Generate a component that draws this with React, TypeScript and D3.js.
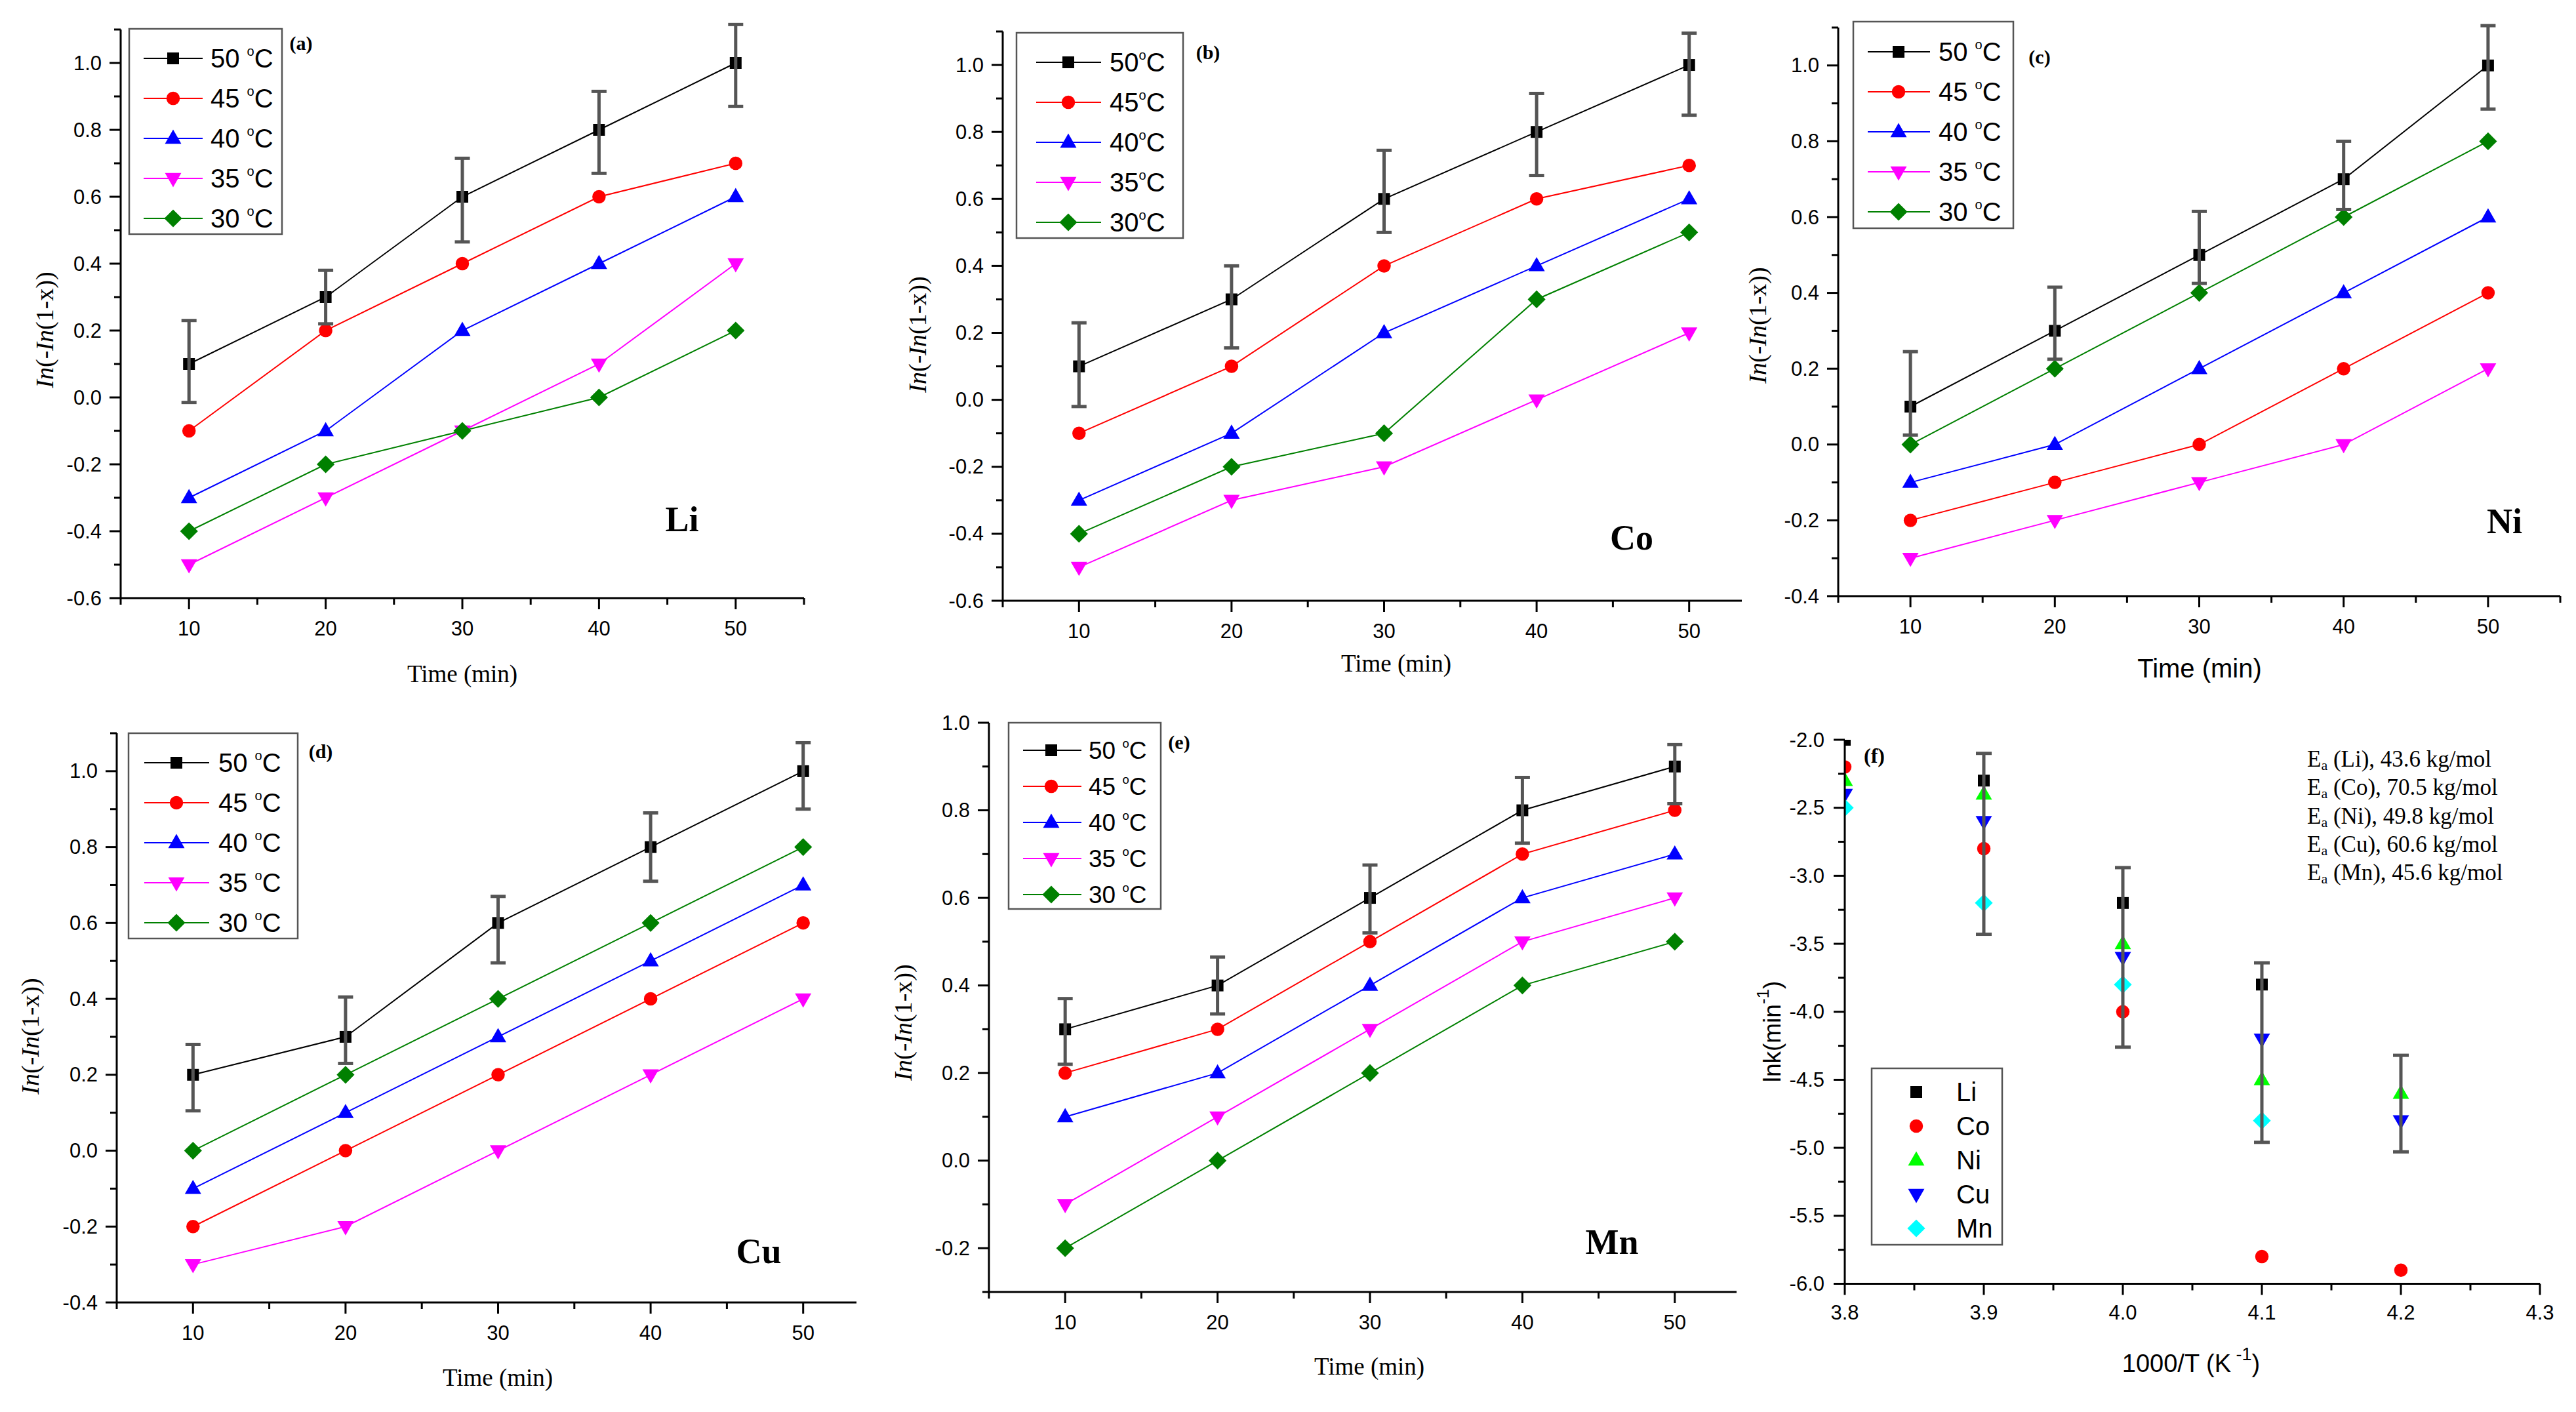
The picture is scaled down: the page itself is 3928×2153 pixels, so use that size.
import React from 'react';
import * as d3 from 'd3';

// ---------------- DATA ----------------
const TIME_MIN = [10, 20, 30, 40, 50];
const TIME_MINOR = [5, 15, 25, 35, 45, 55];
const TEMP_LABELS = ['50', '45', '40', '35', '30'];
const TEMP_COLORS = ['#000000', '#ff0000', '#0000ff', '#ff00ff', '#008000'];
const SHAPES = ['square', 'circle', 'triangle', 'triangleDown', 'diamond'];

const LI_SERIES = [
  [0.1, 0.3, 0.6, 0.8, 1.0],
  [-0.1, 0.2, 0.4, 0.6, 0.7],
  [-0.3, -0.1, 0.2, 0.4, 0.6],
  [-0.5, -0.3, -0.1, 0.1, 0.4],
  [-0.4, -0.2, -0.1, 0.0, 0.2],
];
const LI_ERR_UP = [0.13, 0.08, 0.115, 0.115, 0.115];
const LI_ERR_DOWN = [0.115, 0.08, 0.135, 0.13, 0.13];

const CO_SERIES = [
  [0.1, 0.3, 0.6, 0.8, 1.0],
  [-0.1, 0.1, 0.4, 0.6, 0.7],
  [-0.3, -0.1, 0.2, 0.4, 0.6],
  [-0.5, -0.3, -0.2, 0.0, 0.2],
  [-0.4, -0.2, -0.1, 0.3, 0.5],
];
const CO_ERR_UP = [0.13, 0.1, 0.145, 0.115, 0.095];
const CO_ERR_DOWN = [0.12, 0.145, 0.1, 0.13, 0.15];

const NI_SERIES = [
  [0.1, 0.3, 0.5, 0.7, 1.0],
  [-0.2, -0.1, 0.0, 0.2, 0.4],
  [-0.1, 0.0, 0.2, 0.4, 0.6],
  [-0.3, -0.2, -0.1, 0.0, 0.2],
  [0.0, 0.2, 0.4, 0.6, 0.8],
];
const NI_ERR_UP = [0.145, 0.115, 0.115, 0.1, 0.105];
const NI_ERR_DOWN = [0.075, 0.075, 0.075, 0.08, 0.115];

const CU_SERIES = [
  [0.2, 0.3, 0.6, 0.8, 1.0],
  [-0.2, 0.0, 0.2, 0.4, 0.6],
  [-0.1, 0.1, 0.3, 0.5, 0.7],
  [-0.3, -0.2, 0.0, 0.2, 0.4],
  [0.0, 0.2, 0.4, 0.6, 0.8],
];
const CU_ERR_UP = [0.08, 0.105, 0.07, 0.09, 0.075];
const CU_ERR_DOWN = [0.095, 0.07, 0.105, 0.09, 0.1];

const MN_SERIES = [
  [0.3, 0.4, 0.6, 0.8, 0.9],
  [0.2, 0.3, 0.5, 0.7, 0.8],
  [0.1, 0.2, 0.4, 0.6, 0.7],
  [-0.1, 0.1, 0.3, 0.5, 0.6],
  [-0.2, 0.0, 0.2, 0.4, 0.5],
];
const MN_ERR_UP = [0.07, 0.065, 0.075, 0.075, 0.05];
const MN_ERR_DOWN = [0.08, 0.065, 0.08, 0.075, 0.085];

const Y_TICKS_A = [-0.6, -0.4, -0.2, 0.0, 0.2, 0.4, 0.6, 0.8, 1.0];
const Y_TICKS_C = [-0.4, -0.2, 0.0, 0.2, 0.4, 0.6, 0.8, 1.0];
const Y_TICKS_E = [-0.2, 0.0, 0.2, 0.4, 0.6, 0.8, 1.0];

// panel (f)
const INV_T = [3.8, 3.9, 4.0, 4.1, 4.2];
const INV_T_TICKS = [3.8, 3.9, 4.0, 4.1, 4.2, 4.3];
const INV_T_MINOR = [3.85, 3.95, 4.05, 4.15, 4.25];
const LNK_TICKS = [-6.0, -5.5, -5.0, -4.5, -4.0, -3.5, -3.0, -2.5, -2.0];
const LNK_MINOR = [-5.75, -5.25, -4.75, -4.25, -3.75, -3.25, -2.75, -2.25];
const METALS = ['Li', 'Co', 'Ni', 'Cu', 'Mn'];
const METAL_COLORS = ['#000000', '#ff0000', '#00ff00', '#0000ff', '#00ffff'];
const LNK_LI = [-2.0, -2.3, -3.2, -3.8, null];
const LNK_CO = [-2.2, -2.8, -4.0, -5.8, -5.9];
const LNK_NI = [-2.3, -2.4, -3.5, -4.5, -4.6];
const LNK_CU = [-2.4, -2.6, -3.6, -4.2, -4.8];
const LNK_MN = [-2.5, -3.2, -3.8, -4.8, null];
const LNK_ERR_HIGH = [null, -2.1, -2.94, -3.64, -4.32];
const LNK_ERR_LOW = [null, -3.43, -4.26, -4.96, -5.03];
const EA_VALUES = ['43.6', '70.5', '49.8', '60.6', '45.6'];

// ---------------- STYLE / LAYOUT ----------------
const SANS = "'Liberation Sans', Arial, Helvetica, sans-serif";
const SERIF = "'Liberation Serif', 'Times New Roman', Times, serif";
const AXIS_W = 3;
const MAJOR = 17;
const MINOR = 10;
const TICK_FS = 31;
const ERR_COLOR = '#555555';

const fmt1 = (v: number) => (Math.abs(v) < 1e-9 ? '0.0' : v.toFixed(1));

function symbolPath(shape: string) {
  switch (shape) {
    case 'square':
      return d3.symbol(d3.symbolSquare, 324)() as string;
    case 'circle':
      return d3.symbol(d3.symbolCircle, 330)() as string;
    case 'triangle':
    case 'triangleDown':
      return d3.symbol(d3.symbolTriangle, 270)() as string;
    case 'diamond':
      return d3.symbol(d3.symbolSquare, 370)() as string;
  }
  return '';
}

function Marker({ shape, x, y, color }: { shape: string; x: number; y: number; color: string }) {
  let rot = 0;
  if (shape === 'triangleDown') rot = 180;
  if (shape === 'diamond') rot = 45;
  const dy = shape === 'triangle' ? 1 : shape === 'triangleDown' ? -1 : 0;
  return (
    <path
      d={symbolPath(shape)}
      transform={`translate(${x},${y + dy}) rotate(${rot})`}
      fill={color}
      stroke="none"
    />
  );
}

function ErrorBar({ x, y1, y2, cap, width }: { x: number; y1: number; y2: number; cap: number; width: number }) {
  return (
    <g stroke={ERR_COLOR} strokeWidth={width} fill="none">
      <line x1={x} x2={x} y1={y1} y2={y2} />
      <line x1={x - cap / 2} x2={x + cap / 2} y1={y1} y2={y1} />
      <line x1={x - cap / 2} x2={x + cap / 2} y1={y2} y2={y2} />
    </g>
  );
}

function YLabelTime({ x, y }: { x: number; y: number }) {
  return (
    <text
      transform={`translate(${x},${y}) rotate(-90)`}
      textAnchor="middle"
      dominantBaseline="central"
      fontFamily={SERIF}
      fontSize={38}
    >
      <tspan fontStyle="italic">In</tspan>
      <tspan>(-</tspan>
      <tspan fontStyle="italic">In</tspan>
      <tspan>(1-x))</tspan>
    </text>
  );
}

const TIME_PANELS = [
  {
    id: 'a', tag: '(a)', element: 'Li', series: LI_SERIES, errUp: LI_ERR_UP, errDown: LI_ERR_DOWN,
    yTicks: Y_TICKS_A, yDomain: [-0.6, 1.1], degSpace: true, sansTitle: false,
    xRange: [184, 1226], yRange: [912, 45], clipRight: 0,
    yLabel: [68, 503], xLabel: [705, 1027], tagPos: [459, 65], elemPos: [1040, 792],
    legend: { x: 197, y: 44, w: 233, h: 313, row0: 45, dy: 61, l0: 22, l1: 112, m: 67, t: 124, fs: 40 },
  },
  {
    id: 'b', tag: '(b)', element: 'Co', series: CO_SERIES, errUp: CO_ERR_UP, errDown: CO_ERR_DOWN,
    yTicks: Y_TICKS_A, yDomain: [-0.6, 1.1], degSpace: false, sansTitle: false,
    xRange: [1529, 2692], yRange: [916, 48], clipRight: 2656,
    yLabel: [1399, 510], xLabel: [2129, 1011], tagPos: [1842, 79], elemPos: [2488, 820],
    legend: { x: 1550, y: 50, w: 254, h: 313, row0: 45, dy: 61, l0: 30, l1: 129, m: 79, t: 142, fs: 40 },
  },
  {
    id: 'c', tag: '(c)', element: 'Ni', series: NI_SERIES, errUp: NI_ERR_UP, errDown: NI_ERR_DOWN,
    yTicks: Y_TICKS_C, yDomain: [-0.4, 1.1], degSpace: true, sansTitle: true,
    xRange: [2803, 3904], yRange: [909, 42], clipRight: 0,
    yLabel: [2680, 496], xLabel: [3354, 1019], tagPos: [3110, 86], elemPos: [3819, 795],
    legend: { x: 2826, y: 33, w: 244, h: 315, row0: 46, dy: 61, l0: 22, l1: 117, m: 69, t: 130, fs: 40 },
  },
  {
    id: 'd', tag: '(d)', element: 'Cu', series: CU_SERIES, errUp: CU_ERR_UP, errDown: CU_ERR_DOWN,
    yTicks: Y_TICKS_C, yDomain: [-0.4, 1.1], degSpace: true, sansTitle: false,
    xRange: [178, 1341], yRange: [1986, 1118], clipRight: 1306,
    yLabel: [46, 1580], xLabel: [759, 2100], tagPos: [489, 1145], elemPos: [1157, 1908],
    legend: { x: 196, y: 1118, w: 258, h: 313, row0: 45, dy: 61, l0: 24, l1: 123, m: 73, t: 137, fs: 40 },
  },
  {
    id: 'e', tag: '(e)', element: 'Mn', series: MN_SERIES, errUp: MN_ERR_UP, errDown: MN_ERR_DOWN,
    yTicks: Y_TICKS_E, yDomain: [-0.3, 1.0], degSpace: true, sansTitle: false,
    xRange: [1508, 2670], yRange: [1970, 1102], clipRight: 2648,
    yLabel: [1377, 1559], xLabel: [2088, 2083], tagPos: [1798, 1131], elemPos: [2458, 1894],
    legend: { x: 1538, y: 1102, w: 232, h: 284, row0: 42, dy: 55, l0: 22, l1: 111, m: 65, t: 122, fs: 37 },
  },
];

function TimePanel({ p }: { p: any }) {
  const x = d3.scaleLinear().domain([5, 55]).range(p.xRange);
  const y = d3.scaleLinear().domain(p.yDomain).range(p.yRange);
  const [ymin, ymax] = p.yDomain;
  const x0 = x(5);
  const yb = y(ymin);
  const minorY = d3
    .range(Math.round(ymin * 10), Math.round(ymax * 10) + 1)
    .map((v) => v / 10)
    .filter((v) => !p.yTicks.some((t: number) => Math.abs(t - v) < 1e-6));
  const line = d3
    .line<number>()
    .x((_, i) => x(TIME_MIN[i]))
    .y((d) => y(d));
  const clipId = `clip-${p.id}`;
  const L = p.legend;
  return (
    <g>
      {p.clipRight ? (
        <defs>
          <clipPath id={clipId}>
            <rect x={0} y={0} width={p.clipRight} height={2153} />
          </clipPath>
        </defs>
      ) : null}
      <g clipPath={p.clipRight ? `url(#${clipId})` : undefined}>
        {/* axes */}
        <g stroke="#000" strokeWidth={AXIS_W}>
          <line x1={x0} x2={x0} y1={yb} y2={y(ymax)} />
          <line x1={x0} x2={x(55)} y1={yb} y2={yb} />
          {p.yTicks.map((t: number) => (
            <line key={'ym' + t} x1={x0 - MAJOR} x2={x0} y1={y(t)} y2={y(t)} />
          ))}
          {minorY.map((t: number) => (
            <line key={'yn' + t} x1={x0 - MINOR} x2={x0} y1={y(t)} y2={y(t)} />
          ))}
          {TIME_MIN.map((t) => (
            <line key={'xm' + t} x1={x(t)} x2={x(t)} y1={yb} y2={yb + MAJOR} />
          ))}
          {TIME_MINOR.map((t) => (
            <line key={'xn' + t} x1={x(t)} x2={x(t)} y1={yb} y2={yb + MINOR} />
          ))}
        </g>
        <g fontFamily={SANS} fontSize={TICK_FS} fill="#000">
          {p.yTicks.map((t: number) => (
            <text key={'yl' + t} x={x0 - 29} y={y(t)} textAnchor="end" dominantBaseline="central">
              {fmt1(t)}
            </text>
          ))}
          {TIME_MIN.map((t) => (
            <text key={'xl' + t} x={x(t)} y={yb + 57} textAnchor="middle">
              {t}
            </text>
          ))}
        </g>
        {/* series */}
        {p.series.map((s: number[], si: number) => (
          <path key={'l' + si} d={line(s) as string} fill="none" stroke={TEMP_COLORS[si]} strokeWidth={2} />
        ))}
        {p.series.map((s: number[], si: number) =>
          s.map((v, i) => (
            <Marker key={'m' + si + '-' + i} shape={SHAPES[si]} x={x(TIME_MIN[i])} y={y(v)} color={TEMP_COLORS[si]} />
          ))
        )}
        {p.series[0].map((v: number, i: number) => (
          <ErrorBar
            key={'e' + i}
            x={x(TIME_MIN[i])}
            y1={y(v + p.errUp[i])}
            y2={y(v - p.errDown[i])}
            cap={23}
            width={5}
          />
        ))}
        {/* legend */}
        <rect x={L.x} y={L.y} width={L.w} height={L.h} fill="#fff" stroke="#555" strokeWidth={2.5} />
        {TEMP_LABELS.map((lab, i) => {
          const ry = L.y + L.row0 + i * L.dy;
          const fs = L.fs;
          return (
            <g key={'lg' + i}>
              <line x1={L.x + L.l0} x2={L.x + L.l1} y1={ry} y2={ry} stroke={TEMP_COLORS[i]} strokeWidth={2} />
              <Marker shape={SHAPES[i]} x={L.x + L.m} y={ry} color={TEMP_COLORS[i]} />
              <text x={L.x + L.t} y={ry + fs * 0.36} fontFamily={SANS} fontSize={fs} fill="#000">
                {lab + (p.degSpace ? ' ' : '')}
                <tspan fontSize={fs * 0.5} dy={-fs * 0.46}>
                  o
                </tspan>
                <tspan dy={fs * 0.46}>C</tspan>
              </text>
            </g>
          );
        })}
        {/* labels */}
        <text x={p.tagPos[0]} y={p.tagPos[1]} fontFamily={SERIF} fontWeight="bold" fontSize={30} textAnchor="middle" dominantBaseline="central">
          {p.tag}
        </text>
        <text x={p.elemPos[0]} y={p.elemPos[1]} fontFamily={SERIF} fontWeight="bold" fontSize={54} textAnchor="middle" dominantBaseline="central">
          {p.element}
        </text>
      </g>
      <YLabelTime x={p.yLabel[0]} y={p.yLabel[1]} />
      <text
        x={p.xLabel[0]}
        y={p.xLabel[1]}
        fontFamily={p.sansTitle ? SANS : SERIF}
        fontSize={p.sansTitle ? 40 : 37}
        textAnchor="middle"
        dominantBaseline="central"
      >
        Time (min)
      </text>
    </g>
  );
}

function ArrheniusPanel() {
  const x = d3.scaleLinear().domain([3.8, 4.3]).range([2813, 3873]);
  const y = d3.scaleLinear().domain([-6, -2]).range([1957.5, 1128]);
  const x0 = x(3.8);
  const yb = y(-6);
  const series = [LNK_LI, LNK_CO, LNK_NI, LNK_CU, LNK_MN];
  const legend = { x: 2854, y: 1629, w: 199, h: 269, row0: 36, dy: 52, m: 68, t: 129, fs: 40 };
  return (
    <g>
      <defs>
        <clipPath id="clip-f">
          <rect x={x0} y={y(-2)} width={x(4.3) - x0} height={yb - y(-2)} />
        </clipPath>
      </defs>
      <g clipPath="url(#clip-f)">
        {series.map((s, si) =>
          s.map((v, i) =>
            v === null ? null : (
              <Marker key={'f' + si + '-' + i} shape={SHAPES[si]} x={x(INV_T[i])} y={y(v)} color={METAL_COLORS[si]} />
            )
          )
        )}
      </g>
      {INV_T.map((t, i) =>
        LNK_ERR_HIGH[i] === null ? null : (
          <ErrorBar key={'fe' + i} x={x(t)} y1={y(LNK_ERR_HIGH[i] as number)} y2={y(LNK_ERR_LOW[i] as number)} cap={24} width={5} />
        )
      )}
      <g stroke="#000" strokeWidth={AXIS_W}>
        <line x1={x0} x2={x0} y1={yb} y2={y(-2)} />
        <line x1={x0} x2={x(4.3)} y1={yb} y2={yb} />
        {LNK_TICKS.map((t) => (
          <line key={'fym' + t} x1={x0 - MAJOR} x2={x0} y1={y(t)} y2={y(t)} />
        ))}
        {LNK_MINOR.map((t) => (
          <line key={'fyn' + t} x1={x0 - MINOR} x2={x0} y1={y(t)} y2={y(t)} />
        ))}
        {INV_T_TICKS.map((t) => (
          <line key={'fxm' + t} x1={x(t)} x2={x(t)} y1={yb} y2={yb + MAJOR} />
        ))}
        {INV_T_MINOR.map((t) => (
          <line key={'fxn' + t} x1={x(t)} x2={x(t)} y1={yb} y2={yb + MINOR} />
        ))}
      </g>
      <g fontFamily={SANS} fontSize={TICK_FS} fill="#000">
        {LNK_TICKS.map((t) => (
          <text key={'fyl' + t} x={x0 - 31} y={y(t)} textAnchor="end" dominantBaseline="central">
            {fmt1(t)}
          </text>
        ))}
        {INV_T_TICKS.map((t) => (
          <text key={'fxl' + t} x={x(t)} y={yb + 54} textAnchor="middle">
            {fmt1(t)}
          </text>
        ))}
      </g>
      {/* legend */}
      <rect x={legend.x} y={legend.y} width={legend.w} height={legend.h} fill="#fff" stroke="#555" strokeWidth={2.5} />
      {METALS.map((m, i) => {
        const ry = legend.y + legend.row0 + i * legend.dy;
        return (
          <g key={'fl' + i}>
            <Marker shape={SHAPES[i]} x={legend.x + legend.m} y={ry} color={METAL_COLORS[i]} />
            <text x={legend.x + legend.t} y={ry + legend.fs * 0.36} fontFamily={SANS} fontSize={legend.fs}>
              {m}
            </text>
          </g>
        );
      })}
      {/* Ea annotations */}
      <g fontFamily={SERIF} fontSize={35} fill="#000">
        {METALS.map((m, i) => (
          <text key={'ea' + i} x={3518} y={1169 + i * 43.3}>
            E
            <tspan fontSize={22} dy={5}>
              a
            </tspan>
            <tspan dy={-5}>{` (${m}), ${EA_VALUES[i]} kg/mol`}</tspan>
          </text>
        ))}
      </g>
      <text x={2858} y={1152} fontFamily={SERIF} fontWeight="bold" fontSize={32} textAnchor="middle" dominantBaseline="central">
        (f)
      </text>
      <text
        transform={`translate(${2702},${1573}) rotate(-90)`}
        textAnchor="middle"
        dominantBaseline="central"
        fontFamily={SANS}
        fontSize={37}
      >
        lnk(min
        <tspan fontSize={26} dy={-14}>
          -1
        </tspan>
        <tspan dy={14}>)</tspan>
      </text>
      <text x={3341} y={2079} textAnchor="middle" dominantBaseline="central" fontFamily={SANS} fontSize={38}>
        1000/T (K
        <tspan fontSize={27} dy={-14}>
          {' -1'}
        </tspan>
        <tspan dy={14}>)</tspan>
      </text>
    </g>
  );
}

export default function App() {
  return (
    <svg
      width={3928}
      height={2153}
      viewBox="0 0 3928 2153"
      style={{ position: 'absolute', left: 0, top: 0, display: 'block', background: '#fff' }}
    >
      <rect x={0} y={0} width={3928} height={2153} fill="#fff" />
      {TIME_PANELS.map((p) => (
        <TimePanel key={p.id} p={p} />
      ))}
      <ArrheniusPanel />
    </svg>
  );
}
